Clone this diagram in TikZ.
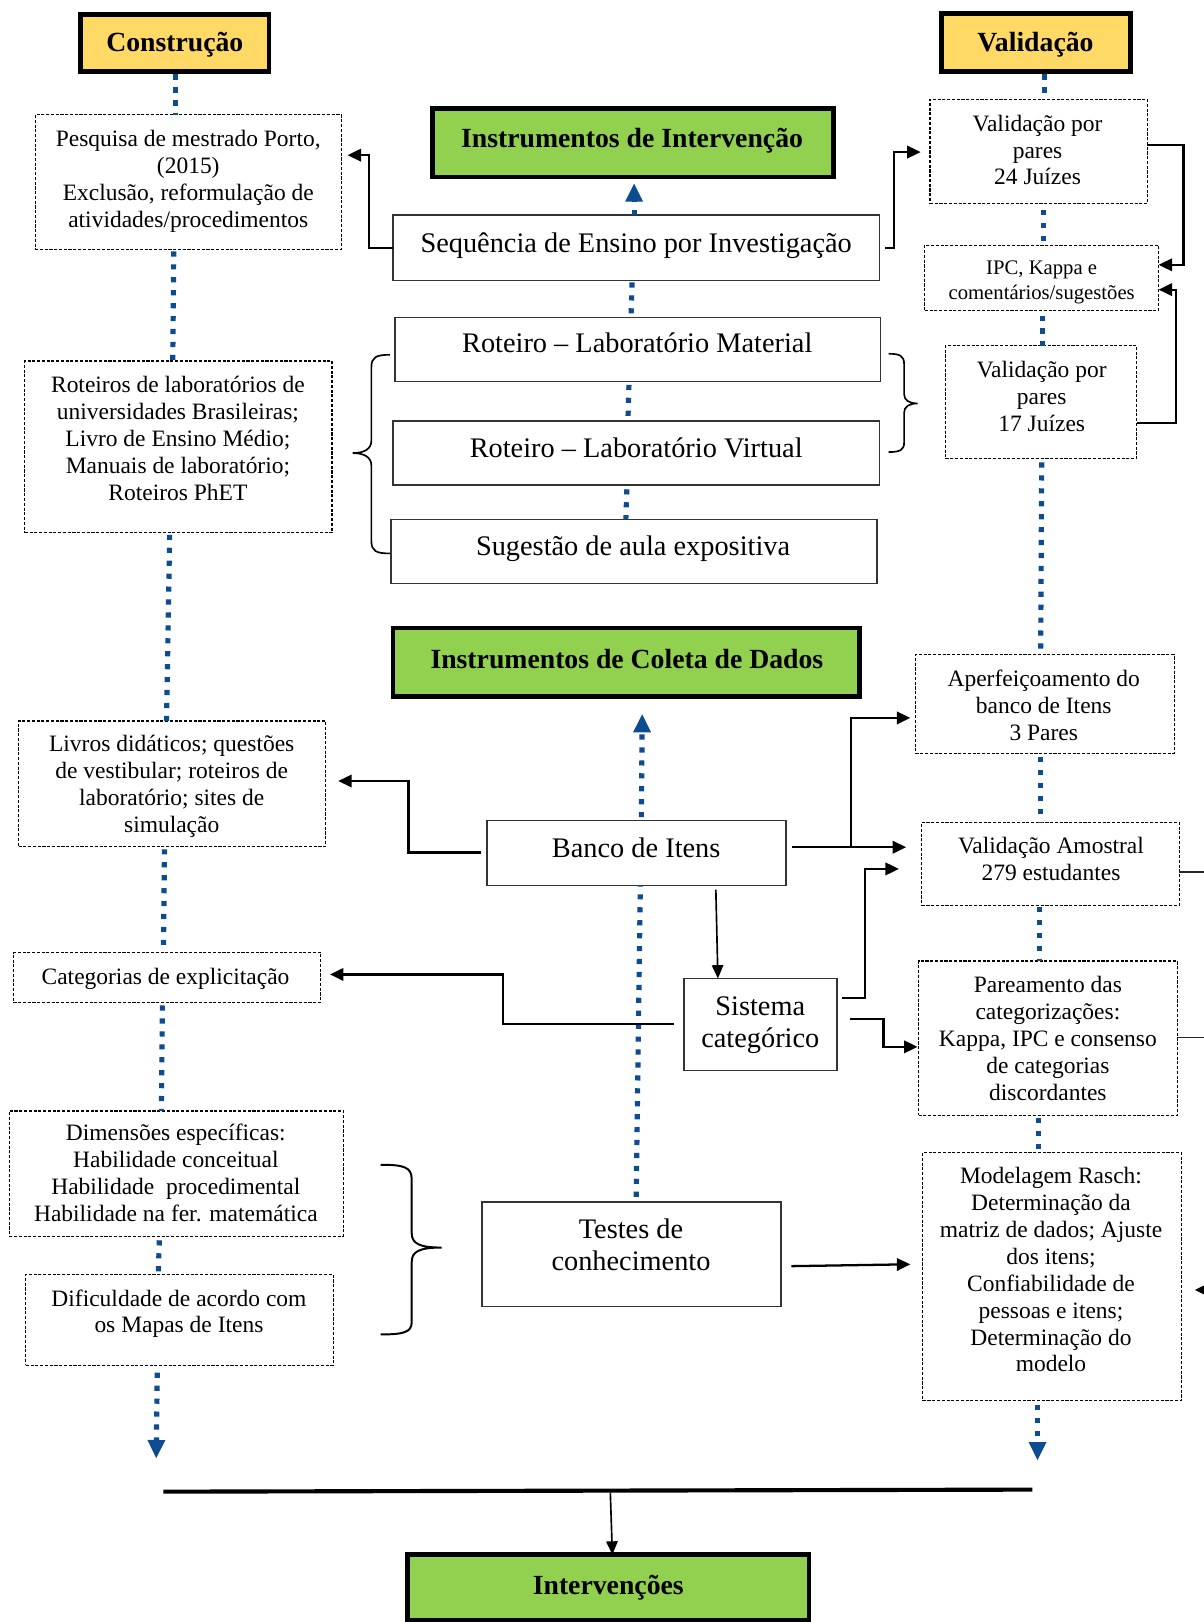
\documentclass[tikz,border=0pt]{standalone}
\usepackage{fontspec}
\setmainfont{Liberation Serif}
\usetikzlibrary{arrows.meta}
\definecolor{hdryellow}{RGB}{255,217,102}
\definecolor{hdrgreen}{RGB}{146,208,80}
\definecolor{dotblue}{RGB}{14,76,146}
\tikzset{
  hdrbox/.style={draw=black, line width=4.3pt, inner sep=0pt, outer sep=0pt},
  dbox/.style={draw=black, line width=1.1pt, dash pattern=on 3pt off 1.6pt, inner sep=0pt, outer sep=0pt},
  sbox/.style={draw=black!80, line width=1.5pt, inner sep=0pt, outer sep=0pt},
  hdrtxt/.style={inner sep=0pt, font=\fontsize{26.8}{31}\selectfont\bfseries},
  btxt/.style={inner sep=0pt, align=center, font=\fontsize{22.7}{26}\selectfont},
  stxt/.style={inner sep=0pt, align=center, font=\fontsize{20}{24}\selectfont},
  ctxt/.style={inner sep=0pt, align=center, font=\fontsize{27.4}{31}\selectfont},
  dotl/.style={draw=dotblue, line width=5pt, dash pattern=on 5pt off 7.5pt},
  dotarr/.style={dotl, -{Triangle[length=18pt,width=16pt,fill=dotblue]}},
  arr/.style={draw=black, line width=2.2pt, -{Triangle[length=13pt,width=12pt]}},
  thinarr/.style={draw=black, line width=1.6pt, -{Triangle[length=13pt,width=11pt]}},
  stub/.style={draw=black!85, line width=1.6pt},
  bracel/.style={draw=black, line width=1.6pt},
}
\begin{document}
\begin{tikzpicture}[x=1pt,y=-1pt]
\useasboundingbox (0,0) rectangle (1163,1568);

% ---------- headers ----------
\node[hdrbox, fill=hdryellow, minimum width=182pt, minimum height=55pt] (constr) at (169,41.5) {};
\node[hdrtxt] (constrt) at (169,43) {Construção};
\node[hdrbox, fill=hdryellow, minimum width=183pt, minimum height=56pt] (valid) at (1001.5,41) {};
\node[hdrtxt] (validt) at (1001,43) {Validação};
\node[hdrbox, line width=4.6pt, fill=hdrgreen, minimum width=388pt, minimum height=66pt] (intv) at (612,138) {};
\node[hdrtxt] (intvt) at (611,136) {Instrumentos de Intervenção};
\node[hdrbox, line width=4.6pt, fill=hdrgreen, minimum width=451pt, minimum height=66pt] (coleta) at (605.5,640) {};
\node[hdrtxt] (coletat) at (606,637) {Instrumentos de\ Coleta de Dados};
\node[hdrbox, line width=4.6pt, fill=hdrgreen, minimum width=388pt, minimum height=63pt] (interv) at (588,1534.5) {};
\node[hdrtxt] (intervt) at (588,1534.5) {Intervenções};

% ---------- left column ----------
\node[dbox, minimum width=296pt, minimum height=130pt] (pesq) at (182,176) {};
\node[btxt] (pesqt) at (182,175) {Pesquisa de mestrado Porto,\\(2015)\\Exclusão, reformulação de\\atividades/procedimentos};
\node[dbox, minimum width=297pt, minimum height=166pt] (rot) at (172.5,432) {};
\node[btxt] (rott) at (172,424) {Roteiros de laboratórios de\\universidades Brasileiras;\\Livro de Ensino Médio;\\Manuais de laboratório;\\Roteiros PhET};
\node[dbox, minimum width=297pt, minimum height=121pt] (livros) at (166.5,757.5) {};
\node[btxt] (livrost) at (166,760) {Livros didáticos; questões\\de vestibular; roteiros de\\laboratório; sites de\\simulação};
\node[dbox, minimum width=297pt, minimum height=48pt] (cat) at (161.5,945) {};
\node[btxt] (catt) at (160,946) {Categorias de explicitação};
\node[dbox, minimum width=323pt, minimum height=121pt] (dim) at (170.5,1134.5) {};
\node[btxt] (dimt) at (170,1134) {Dimensões específicas:\\Habilidade conceitual\\Habilidade\ \ procedimental\\Habilidade na fer. matemática};
\node[dbox, minimum width=297pt, minimum height=88pt] (dif) at (173.5,1276) {};
\node[btxt] (dift) at (173,1270) {Dificuldade de acordo com\\os Mapas de Itens};

% ---------- centre column ----------
\node[sbox, minimum width=470pt, minimum height=63pt] (seq) at (615,239.5) {};
\node[ctxt] (seqt) at (615,238) {Sequência de Ensino por Investigação};
\node[sbox, minimum width=469pt, minimum height=62pt] (mat) at (616.5,338) {};
\node[ctxt] (matt) at (616,331.5) {Roteiro -- Laboratório Material};
\node[sbox, minimum width=470pt, minimum height=62pt] (virt) at (615,438) {};
\node[ctxt] (virtt) at (615,432.5) {Roteiro -- Laboratório Virtual};
\node[sbox, minimum width=470pt, minimum height=62pt] (sug) at (613,533) {};
\node[ctxt] (sugt) at (612,530) {Sugestão de aula expositiva};
\node[sbox, minimum width=289pt, minimum height=63pt] (banco) at (615.5,824.5) {};
\node[ctxt] (bancot) at (615,820) {Banco de Itens};
\node[sbox, minimum width=148pt, minimum height=89pt] (sis) at (735,990.5) {};
\node[ctxt] (sist) at (735,991) {Sistema\\categórico};
\node[sbox, minimum width=289pt, minimum height=101pt] (testes) at (610.5,1212.5) {};
\node[ctxt] (testest) at (610,1203) {Testes de\\conhecimento};

% ---------- right column ----------
\node[dbox, minimum width=210pt, minimum height=101pt] (v24) at (1004,146.5) {};
\node[btxt] (v24t) at (1003,145) {Validação por\\pares\\24 Juízes};
\node[dbox, minimum width=226pt, minimum height=63pt] (ipc) at (1007,268.5) {};
\node[stxt] (ipct) at (1007,273) {IPC, Kappa e\\comentários/sugestões};
\node[dbox, minimum width=185pt, minimum height=109pt] (v17) at (1006.5,388.5) {};
\node[btxt] (v17t) at (1007,383) {Validação por\\pares\\17 Juízes};
\node[dbox, minimum width=250pt, minimum height=95pt] (aperf) at (1010,680.5) {};
\node[btxt] (aperft) at (1009,682) {Aperfeiçoamento do\\banco de Itens\\3 Pares};
\node[dbox, minimum width=249pt, minimum height=80pt] (va) at (1015.5,835) {};
\node[btxt] (vat) at (1016,830) {Validação Amostral\\279 estudantes};
\node[dbox, minimum width=250pt, minimum height=149pt] (par) at (1013,1003.5) {};
\node[btxt] (part) at (1013,1004) {Pareamento das\\categorizações:\\Kappa, IPC e consenso\\de categorias\\discordantes};
\node[dbox, minimum width=250pt, minimum height=240pt] (model) at (1017,1234) {};
\node[btxt] (modelt) at (1016,1227.5) {Modelagem Rasch:\\Determinação da\\matriz de dados; Ajuste\\dos itens;\\Confiabilidade de\\pessoas e itens;\\Determinação do\\modelo};

% ---------- dotted blue connectors ----------
\draw[dotl] (constr.south -| 170,0) ++(0,3) -- (pesq.north -| 170,0);
\draw[dotl] (pesq.south -| 168,0) ++(0,2) -- (rot.north -| 167,0);
\draw[dotl] (rot.south -| 164,0) ++(0,2) -- (livros.north -| 161,0);
\draw[dotl] (livros.south -| 159,0) ++(0,3) -- (cat.north -| 158,0);
\draw[dotl] (cat.south -| 157,0) ++(0,3) -- (dim.north -| 156,0);
\draw[dotl] (dim.south -| 154,0) ++(0,4) -- (dif.north -| 153,0);
\coordinate (endL) at (151,1410);
\draw[dotarr] (dif.south -| 152,0) ++(0,7) -- (endL);

\draw[dotl] (valid.south -| 1010,0) ++(0,3) -- (v24.north -| 1010,0);
\draw[dotl] (v24.south -| 1009,0) ++(0,6) -- (ipc.north -| 1009,0);
\draw[dotl] (ipc.south -| 1008,0) ++(0,5) -- (v17.north -| 1008,0);
\draw[dotl] (v17.south -| 1007,0) ++(0,4) -- (aperf.north -| 1006,0);
\draw[dotl] (aperf.south -| 1006,0) ++(0,4) -- (va.north -| 1006,0);
\draw[dotl] (va.south -| 1005,0) ++(0,2) -- (par.north -| 1005,0);
\draw[dotl] (par.south -| 1004,0) ++(0,3) -- (model.north -| 1004,0);
\coordinate (endR) at (1003,1412);
\draw[dotarr] (model.south -| 1003,0) ++(0,4) -- (endR);

\draw[dotarr, shorten >=6pt] (seq.north -| 613,0) -- (intv.south -| 613,0);
\draw[dotl] (seq.south -| 611,0) ++(0,2) -- (mat.north -| 610,0);
\draw[dotl] (mat.south -| 608,0) ++(0,3) -- (virt.north -| 607,0);
\draw[dotl] (virt.south -| 606,0) ++(0,4) -- (sug.north -| 605,0);
\draw[dotarr, shorten >=17pt] (banco.north -| 620,0) ++(0,-3) -- (coleta.south -| 621,0);
\draw[dotl] (testes.north -| 615,0) ++(0,-5) -- (banco.south -| 619,0);

% ---------- black arrows ----------
\draw[arr, shorten >=6pt] (seq.west) -- ++(-23,0) |- (pesq.east |- 0,150);
\draw[arr, shorten >=9pt] (seq.east) ++(6,0) -- ++(8,0) |- (v24.west |- 0,147);
\draw[arr] (v24.east |- 0,140) -- ++(35,0) |- (ipc.east |- 0,256);
\draw[arr] (v17.east |- 0,409) -- ++(38,0) |- (ipc.east |- 0,280);

\draw[arr, shorten >=12pt] (banco.west |- 0,824) ++(-6,0) -- ++(-70,0) |- (livros.east |- 0,755);
\draw[arr, shorten >=15pt] (banco.east |- 0,819) ++(6,0) -- (va.west |- 0,819);
\draw[arr, shorten >=5pt] (banco.east |- 0,819) ++(63,0) |- (aperf.west |- 0,694);
\draw[thinarr] (banco.south -| 692,0) ++(0,4) -- (sis.north -| 694,0);

\draw[arr, shorten >=9pt] (sis.west |- 0,990) ++(-9,0) -- ++(-166,0) |- (cat.east |- 0,942);
\draw[arr, shorten >=22pt] (sis.east |- 0,965) ++(5,0) -- ++(22,0) |- (va.west |- 0,840);
\draw[arr, shorten >=1pt] (sis.east |- 0,985) ++(13,0) -- ++(32,0) |- (par.west |- 0,1012);

\draw[arr, shorten >=12pt] (testes.east |- 0,1224) ++(10,0) -- (model.west |- 0,1222);

% stubs leaving the page on the right
\coordinate (edgeA) at (1170,843);
\coordinate (edgeB) at (1170,1003);
\coordinate (edgeC) at (1180,1247);
\draw[stub] (va.east |- 0,843) -- (edgeA);
\draw[stub] (par.east |- 0,1003) -- (edgeB);
\draw[arr, shorten >=13pt] (edgeC) -- (model.east |- 0,1247);

% ---------- braces ----------
\draw[bracel] (377,343) .. controls (364,343) and (359,345) .. (359,355) -- (359,426)
  .. controls (359,434) and (352,438) .. (341,438)
  .. controls (352,438) and (359,442) .. (359,450) -- (359,523)
  .. controls (359,533) and (364,535) .. (377,535);
\draw[bracel] (859,342) .. controls (870,342) and (874,344) .. (874,352) -- (874,381)
  .. controls (874,387) and (879,390) .. (887,390)
  .. controls (879,390) and (874,393) .. (874,399) -- (874,428)
  .. controls (874,435) and (870,437) .. (859,437);
\draw[bracel, line width=1.9pt] (368,1126) .. controls (390,1126) and (398,1128) .. (398,1140) -- (398,1192)
  .. controls (398,1202) and (405,1206) .. (427,1206)
  .. controls (405,1206) and (398,1210) .. (398,1220) -- (398,1278)
  .. controls (398,1288) and (390,1290) .. (368,1290);

% ---------- bottom bar ----------
\coordinate (barL) at (158,1442);
\coordinate (barR) at (998,1440);
\draw[line width=4pt] (barL) -- (barR);
\draw[thinarr] (590,1443) -- (interv.north -| 592,0);

\end{tikzpicture}
\end{document}
